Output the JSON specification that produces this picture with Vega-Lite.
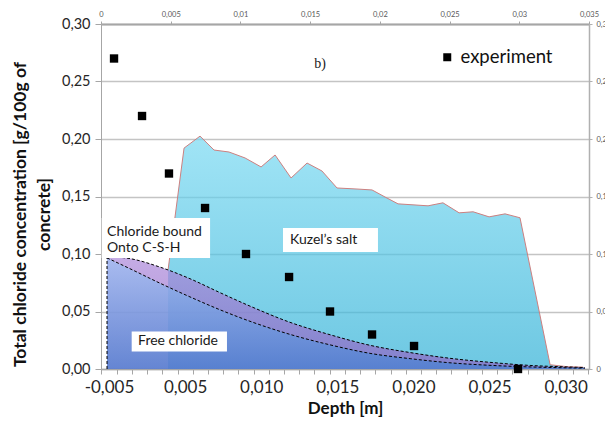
{
  "$schema": "https://vega.github.io/schema/vega-lite/v6.json",
  "width": 488,
  "height": 345,
  "autosize": {"type": "none"},
  "padding": {"left": 101, "top": 24, "right": 16, "bottom": 56},
  "background": "white",
  "config": {
    "view": {"stroke": null},
    "axis": {"labelFont": "Lato", "titleFont": "Lato"},
    "legend": {"labelFont": "Lato"},
    "text": {"font": "Lato"}
  },
  "datasets": {
    "experiment": [
      {"x": 0.00033, "y": 0.27},
      {"x": 0.00217, "y": 0.22},
      {"x": 0.00394, "y": 0.17},
      {"x": 0.00631, "y": 0.14},
      {"x": 0.009, "y": 0.10},
      {"x": 0.01183, "y": 0.08},
      {"x": 0.01452, "y": 0.05},
      {"x": 0.01728, "y": 0.03},
      {"x": 0.02004, "y": 0.02},
      {"x": 0.02687, "y": 0.0}
    ],
    "kuzel": [
      {"x": 0.00388, "y": 0.0862},
      {"x": 0.00493, "y": 0.1921},
      {"x": 0.00598, "y": 0.2025},
      {"x": 0.0069, "y": 0.1904},
      {"x": 0.00788, "y": 0.1887},
      {"x": 0.00894, "y": 0.1835},
      {"x": 0.00999, "y": 0.1757},
      {"x": 0.01091, "y": 0.1861},
      {"x": 0.01196, "y": 0.1661},
      {"x": 0.01301, "y": 0.1791},
      {"x": 0.01399, "y": 0.1722},
      {"x": 0.01498, "y": 0.1574},
      {"x": 0.01616, "y": 0.1566},
      {"x": 0.01728, "y": 0.1557},
      {"x": 0.01813, "y": 0.1496},
      {"x": 0.01899, "y": 0.1436},
      {"x": 0.02096, "y": 0.1419},
      {"x": 0.02194, "y": 0.1445},
      {"x": 0.023, "y": 0.1358},
      {"x": 0.02392, "y": 0.1367},
      {"x": 0.02497, "y": 0.1323},
      {"x": 0.02602, "y": 0.1349},
      {"x": 0.027, "y": 0.1315},
      {"x": 0.02898, "y": 0.0037},
      {"x": 0.03009, "y": 0.002},
      {"x": 0.03114, "y": 0.0016}
    ],
    "csh": [
      {"x": -0.00013, "y": 0.0978},
      {"x": 0.00138, "y": 0.096},
      {"x": 0.00335, "y": 0.0886},
      {"x": 0.00532, "y": 0.0785},
      {"x": 0.00729, "y": 0.0664},
      {"x": 0.00926, "y": 0.0547},
      {"x": 0.01189, "y": 0.0406},
      {"x": 0.01452, "y": 0.0298},
      {"x": 0.01715, "y": 0.0206},
      {"x": 0.01978, "y": 0.0143},
      {"x": 0.0224, "y": 0.0093},
      {"x": 0.02503, "y": 0.0058},
      {"x": 0.02766, "y": 0.0031},
      {"x": 0.03029, "y": 0.0017},
      {"x": 0.03127, "y": 0.0012}
    ],
    "free": [
      {"x": -0.00013, "y": 0.0966},
      {"x": 0.00138, "y": 0.0872},
      {"x": 0.00335, "y": 0.0746},
      {"x": 0.00532, "y": 0.0627},
      {"x": 0.00729, "y": 0.0515},
      {"x": 0.00926, "y": 0.0415},
      {"x": 0.01189, "y": 0.0301},
      {"x": 0.01452, "y": 0.021},
      {"x": 0.01715, "y": 0.0136},
      {"x": 0.01978, "y": 0.009},
      {"x": 0.0224, "y": 0.0054},
      {"x": 0.02503, "y": 0.0032},
      {"x": 0.02766, "y": 0.0018},
      {"x": 0.03029, "y": 0.001},
      {"x": 0.03127, "y": 0.0008}
    ],
    "boxes": [
      {"x": -0.00048, "x2": 0.00664, "y": 0.1314, "y2": 0.0966},
      {"x": 0.01143, "x2": 0.01767, "y": 0.1227, "y2": 0.1018},
      {"x": 0.00149, "x2": 0.00775, "y": 0.0326, "y2": 0.0153}
    ],
    "labels": [
      {"x": -0.00013, "y": 0.1192, "label": "Chloride bound\nOnto C-S-H"},
      {"x": 0.01189, "y": 0.1123, "label": "Kuzel’s salt"},
      {"x": 0.00191, "y": 0.024, "label": "Free chloride"}
    ],
    "panel": [
      {"x": 0.01386, "y": 0.2651, "label": "b)"}
    ]
  },
  "layer": [
    {
      "encoding": {
        "x": {
          "field": "x", "type": "quantitative",
          "scale": {"domain": [-0.000526, 0.031534], "nice": false, "zero": false},
          "axis": {
            "orient": "bottom",
            "values": [-0.0005, 0.0005, 0.0015, 0.0025, 0.0035, 0.0045, 0.0055, 0.0065, 0.0075, 0.0085, 0.0095, 0.0105, 0.0115, 0.0125, 0.0135, 0.0145, 0.0155, 0.0165, 0.0175, 0.0185, 0.0195, 0.0205, 0.0215, 0.0225, 0.0235, 0.0245, 0.0255, 0.0265, 0.0275, 0.0285, 0.0295, 0.0305, 0.0315],
            "labelExpr": "round((datum.value + 0.0005) * 1000) % 5 == 0 ? (round((datum.value + 0.0005) * 1000) == 0 ? '-0,005' : replace(format(round((datum.value + 0.0005) * 1000) / 1000, '.3f'), '.', ',')) : ''",
            "labelOffset": 7.6,
            "labelFontSize": 17,
            "labelColor": "#262626",
            "labelFlush": false,
            "labelOverlap": false,
            "tickSize": 5,
            "labelPadding": 5,
            "tickColor": "#a6a6a6",
            "domainColor": "#a6a6a6",
            "domainWidth": 1.5,
            "grid": false,
            "title": "Depth [m]",
            "titleFontSize": 17,
            "titleFontWeight": "bold",
            "titleColor": "#111111",
            "titleY": 31
          }
        },
        "y": {
          "field": "y", "type": "quantitative",
          "scale": {"domain": [0, 0.3], "nice": false, "zero": false},
          "axis": {
            "orient": "left",
            "values": [0, 0.05, 0.1, 0.15, 0.2, 0.25, 0.3],
            "labelExpr": "replace(format(datum.value, '.2f'), '.', ',')",
            "labelFontSize": 14.5,
            "labelColor": "#262626",
            "tickSize": 6,
            "labelPadding": 5,
            "tickColor": "#a6a6a6",
            "domainColor": "#a6a6a6",
            "grid": true,
            "gridColor": "#c4c4c4",
            "gridWidth": 1.3,
            "title": ["Total chloride concentration [g/100g of", "concrete]"],
            "titleFontSize": 17.5,
            "titleFontWeight": "bold",
            "titleColor": "#111111",
            "titleX": -72,
            "titleY": 190,
            "titleLineHeight": 24,
            "zindex": 0
          }
        }
      },
      "layer": [
        {
          "data": {"name": "kuzel"},
          "mark": {
            "type": "area",
            "color": {"gradient": "linear", "x1": 0, "y1": 0, "x2": 0, "y2": 1, "stops": [{"offset": 0, "color": "#78d9f2"}, {"offset": 1, "color": "#2fb0d6"}]},
            "line": {"color": "#cc8080", "strokeWidth": 1}
          }
        },
        {
          "data": {"name": "csh"},
          "mark": {
            "type": "area",
            "interpolate": "monotone",
            "color": {"gradient": "linear", "x1": 0, "y1": 0, "x2": 0, "y2": 1, "stops": [{"offset": 0, "color": "#ac88da"}, {"offset": 1, "color": "#8d62c2"}]},
            "line": {"color": "black", "strokeWidth": 1, "strokeDash": [3, 2]}
          }
        },
        {
          "data": {"name": "free"},
          "mark": {
            "type": "area",
            "interpolate": "monotone",
            "color": {"gradient": "linear", "x1": 0, "y1": 0, "x2": 0, "y2": 1, "stops": [{"offset": 0, "color": "#9ec2f4"}, {"offset": 1, "color": "#4580d2"}]},
            "line": {"color": "black", "strokeWidth": 1, "strokeDash": [3, 2]}
          }
        },
        {
          "data": {"name": "free"},
          "transform": [{"filter": "datum.x < 0"}],
          "mark": {"type": "rule", "color": "black", "strokeWidth": 1, "strokeDash": [3, 2]},
          "encoding": {
            "y": {"datum": 0, "type": "quantitative"},
            "y2": {"field": "y"}
          }
        },
        {
          "data": {"name": "boxes"},
          "mark": {"type": "rect", "color": "white"},
          "encoding": {
            "x2": {"field": "x2"},
            "y2": {"field": "y2"}
          }
        },
        {
          "data": {"name": "labels"},
          "mark": {"type": "text", "align": "left", "baseline": "middle", "fontSize": 14, "lineHeight": 16, "lineBreak": "\n", "color": "#1a1a1a", "font": "Lato"},
          "encoding": {
            "text": {"field": "label"}
          }
        },
        {
          "data": {"name": "panel"},
          "mark": {"type": "text", "align": "center", "baseline": "middle", "fontSize": 14, "font": "Liberation Serif", "color": "#1a1a1a"},
          "encoding": {
            "text": {"field": "label"}
          }
        },
        {
          "data": {"name": "experiment"},
          "mark": {"type": "point", "shape": "square", "filled": true, "size": 70, "opacity": 1},
          "encoding": {
            "color": {
              "datum": "experiment", "type": "nominal",
              "scale": {"range": ["#000000"]},
              "legend": {
                "orient": "none", "legendX": 337, "legendY": 24, "title": null,
                "symbolType": "square", "symbolSize": 64, "symbolStrokeWidth": 0,
                "labelFontSize": 18.5, "labelColor": "#111111", "labelOffset": 4, "padding": 0
              }
            }
          }
        }
      ]
    },
    {
      "data": {"name": "experiment"},
      "mark": {"type": "point", "opacity": 0},
      "encoding": {
        "x": {
          "field": "x", "type": "quantitative",
          "scale": {"domain": [0, 0.035], "nice": false, "zero": false},
          "axis": {
            "orient": "top",
            "values": [0, 0.005, 0.01, 0.015, 0.02, 0.025, 0.03, 0.035],
            "labelExpr": "replace(format(datum.value, '.3~f'), '.', ',')",
            "labelFontSize": 7.5,
            "labelColor": "#595959",
            "labelFlush": false,
            "labelOverlap": false,
            "tickSize": 3,
            "labelPadding": 3,
            "tickColor": "#a6a6a6",
            "domainColor": "#a6a6a6",
            "domainWidth": 2,
            "grid": false,
            "title": null
          }
        }
      }
    },
    {
      "data": {"name": "experiment"},
      "mark": {"type": "point", "opacity": 0},
      "encoding": {
        "y": {
          "field": "y", "type": "quantitative",
          "scale": {"domain": [0, 0.3], "nice": false, "zero": false},
          "axis": {
            "orient": "right",
            "values": [0, 0.05, 0.1, 0.15, 0.2, 0.25, 0.3],
            "labelExpr": "replace(format(datum.value, '.2~f'), '.', ',')",
            "labelFontSize": 7.5,
            "labelColor": "#595959",
            "labelFlush": false,
            "tickSize": 3,
            "labelPadding": 4,
            "tickColor": "#b0b0b0",
            "domainColor": "#b0b0b0",
            "domainWidth": 1.5,
            "grid": false,
            "title": null
          }
        }
      }
    }
  ],
  "resolve": {"scale": {"x": "independent", "y": "independent"}}
}
